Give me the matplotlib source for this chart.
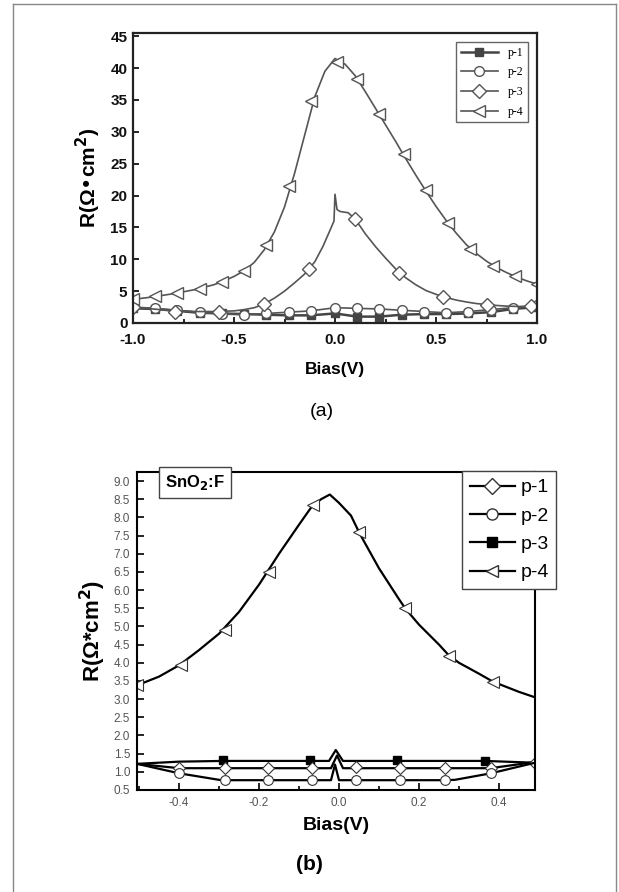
import numpy as np
import matplotlib
matplotlib.use('Agg')
import matplotlib.pyplot as plt
from matplotlib.lines import Line2D
from matplotlib.ticker import MultipleLocator, FormatStrFormatter

plt.rcParams['font.family'] = ['Liberation Sans', 'DejaVu Sans']
plt.rcParams['mathtext.default'] = 'bf'

## (a) top panel data
a_labels = ['p-1', 'p-2', 'p-3', 'p-4']

a_p4_x = [-1.0, -0.95, -0.9, -0.85, -0.8, -0.75, -0.7, -0.65, -0.6, -0.55, -0.5, -0.45, -0.4,
          -0.35, -0.3, -0.25, -0.2, -0.15, -0.1, -0.05, 0.0, 0.05, 0.1, 0.15, 0.2, 0.25, 0.3,
          0.35, 0.4, 0.45, 0.5, 0.55, 0.6, 0.65, 0.7, 0.75, 0.8, 0.85, 0.9, 0.95, 1.0]
a_p4_y = [3.7, 3.9, 4.1, 4.35, 4.6, 4.9, 5.2, 5.6, 6.0, 6.6, 7.3, 8.2, 9.5,
          11.5, 14.3, 18.2, 23.5, 29.5, 35.5, 39.5, 41.5, 40.6, 38.8, 36.3, 33.7, 31.1, 28.5,
          25.8, 23.2, 20.7, 18.3, 16.1, 14.1, 12.3, 10.9, 9.7, 8.7, 7.9, 7.2, 6.6, 6.1]
a_p4_mx = [-1.0, -0.89, -0.78, -0.67, -0.56, -0.45, -0.34, -0.23, -0.12, 0.01,
           0.11, 0.22, 0.34, 0.45, 0.56, 0.67, 0.78, 0.89, 1.0]
a_p4_my = [3.8, 4.3, 4.7, 5.3, 6.4, 8.2, 12.3, 21.5, 34.8, 41.0,
           38.3, 32.8, 26.5, 20.9, 15.7, 11.6, 8.9, 7.3, 6.1]

a_p3_x = [-1.0, -0.9, -0.8, -0.7, -0.6, -0.5, -0.45, -0.4, -0.35, -0.3, -0.25, -0.2, -0.15,
          -0.1, -0.06, -0.024, -0.005, 0.0, 0.01, 0.025, 0.065, 0.1, 0.15, 0.2, 0.25, 0.3,
          0.35, 0.4, 0.45, 0.5, 0.55, 0.6, 0.65, 0.7, 0.75, 0.8, 0.85, 0.9, 0.95, 1.0]
a_p3_y = [2.5, 2.2, 1.9, 1.8, 1.8, 1.9, 2.1, 2.4, 3.0, 3.9, 5.0, 6.3, 7.7,
          9.6, 12.0, 14.6, 16.0, 20.2, 17.8, 17.5, 17.3, 16.3, 14.0, 12.0, 10.2, 8.5,
          7.1, 6.0, 5.1, 4.5, 4.0, 3.6, 3.3, 3.05, 2.9, 2.75, 2.65, 2.6, 2.6, 2.6]
a_p3_mx = [-1.0, -0.79, -0.575, -0.35, -0.128, 0.1, 0.317, 0.535, 0.75, 0.97]
a_p3_my = [2.5, 1.8, 1.8, 3.0, 8.4, 16.3, 7.9, 4.1, 2.9, 2.6]

a_p2_x = [-1.0, -0.89, -0.78, -0.67, -0.56, -0.45, -0.34, -0.23, -0.12, 0.0,
          0.11, 0.22, 0.33, 0.44, 0.55, 0.66, 0.77, 0.88, 1.0]
a_p2_y = [2.5, 2.3, 2.0, 1.7, 1.4, 1.3, 1.5, 1.7, 1.9, 2.4,
          2.3, 2.2, 2.0, 1.8, 1.6, 1.8, 2.1, 2.4, 2.8]

a_p1_x = [-1.0, -0.89, -0.78, -0.67, -0.56, -0.45, -0.34, -0.23, -0.12, 0.0,
          0.11, 0.22, 0.33, 0.44, 0.55, 0.66, 0.77, 0.88, 1.0]
a_p1_y = [2.3, 2.2, 1.9, 1.6, 1.5, 1.4, 1.3, 1.2, 1.2, 1.5,
          1.0, 1.0, 1.3, 1.4, 1.4, 1.5, 1.7, 2.2, 2.5]

## (b) bottom panel data
b_labels = ['p-1', 'p-2', 'p-3', 'p-4']

b_p4_x = [-0.505, -0.45, -0.4, -0.35, -0.3, -0.25, -0.2, -0.15, -0.1, -0.068, -0.045, -0.023,
          0.0, 0.03, 0.052, 0.1, 0.15, 0.166, 0.2, 0.25, 0.275, 0.3, 0.35, 0.385, 0.45, 0.49]
b_p4_y = [3.38, 3.62, 3.93, 4.35, 4.8, 5.4, 6.15, 7.0, 7.8, 8.3, 8.5, 8.63,
          8.4, 8.05, 7.55, 6.6, 5.75, 5.49, 5.05, 4.5, 4.2, 4.0, 3.7, 3.48, 3.2, 3.05]
b_p4_mx = [-0.505, -0.395, -0.285, -0.175, -0.065, 0.05, 0.165, 0.275, 0.385]
b_p4_my = [3.38, 3.95, 4.91, 6.5, 8.33, 7.6, 5.5, 4.2, 3.48]

b_p3_x = [-0.505, -0.4, -0.29, -0.075, -0.025, -0.008, 0.01, 0.145, 0.365, 0.49]
b_p3_y = [1.22, 1.28, 1.3, 1.3, 1.3, 1.6, 1.3, 1.3, 1.3, 1.25]
b_p3_mx = [-0.291, -0.072, 0.146, 0.364]
b_p3_my = [1.32, 1.33, 1.32, 1.31]

b_p1_x = [-0.505, -0.4, -0.286, -0.177, -0.068, -0.02, -0.005, 0.01, 0.042, 0.153, 0.265,
          0.379, 0.49]
b_p1_y = [1.22, 1.1, 1.1, 1.1, 1.1, 1.1, 1.45, 1.1, 1.1, 1.1, 1.1, 1.1, 1.27]
b_p1_mx = [-0.4, -0.286, -0.177, -0.068, 0.042, 0.153, 0.265, 0.379, 0.49]
b_p1_my = [1.1, 1.1, 1.1, 1.1, 1.12, 1.1, 1.1, 1.1, 1.25]

b_p2_x = [-0.505, -0.4, -0.3, -0.286, -0.177, -0.068, -0.02, -0.01, 0.0, 0.042, 0.153,
          0.265, 0.29, 0.38, 0.49]
b_p2_y = [1.22, 0.96, 0.78, 0.77, 0.77, 0.77, 0.77, 1.2, 0.77, 0.77, 0.77,
          0.77, 0.78, 0.96, 1.25]
b_p2_mx = [-0.4, -0.286, -0.177, -0.068, 0.042, 0.153, 0.265, 0.38]
b_p2_my = [0.96, 0.77, 0.77, 0.77, 0.77, 0.77, 0.77, 0.96]

fig = plt.figure(figsize=(6.19, 8.92), dpi=100)

# page frame
fr = '#888888'
fig.add_artist(Line2D([13/619, 13/619], [0, 888/892], color=fr, lw=1))
fig.add_artist(Line2D([616/619, 616/619], [0, 888/892], color=fr, lw=1))
fig.add_artist(Line2D([13/619, 616/619], [888/892, 888/892], color=fr, lw=1))

## (a)
g = '#555555'
ax1 = fig.add_axes([133/619, (892-323)/892, 404/619, 290/892])
ax1.plot(a_p1_x, a_p1_y, color='#444444', lw=1.8)
ax1.plot(a_p1_x, a_p1_y, ls='none', marker='s', ms=6, color='#444444')
ax1.plot(a_p2_x, a_p2_y, color=g, lw=1.2)
ax1.plot(a_p2_x, a_p2_y, ls='none', marker='o', ms=7, mfc='white', mec=g, mew=1)
ax1.plot(a_p3_x, a_p3_y, color=g, lw=1.2)
ax1.plot(a_p3_mx, a_p3_my, ls='none', marker='D', ms=7.5, mfc='white', mec=g, mew=1)
ax1.plot(a_p4_x, a_p4_y, color=g, lw=1.2)
ax1.plot(a_p4_mx, a_p4_my, ls='none', marker='<', ms=9, mfc='white', mec=g, mew=1)
ax1.set_xlim(-1.0, 1.0)
ax1.set_ylim(0, 45.5)
ax1.xaxis.set_major_locator(MultipleLocator(0.5))
ax1.xaxis.set_minor_locator(MultipleLocator(0.25))
ax1.yaxis.set_major_locator(MultipleLocator(5))
ax1.xaxis.set_major_formatter(FormatStrFormatter('%.1f'))
ax1.tick_params(which='both', direction='in', top=False, right=False, width=1.3, colors='#111111')
ax1.tick_params(which='major', length=4, labelsize=11, pad=4)
ax1.tick_params(axis='x', which='major', pad=7)
ax1.tick_params(which='minor', length=3)
for lbl in ax1.get_xticklabels() + ax1.get_yticklabels():
    lbl.set_fontweight('bold')
for s in ax1.spines.values():
    s.set_linewidth(1.6)
    s.set_color('#222222')
ax1.set_xlabel('Bias(V)', fontsize=12.5, fontweight='bold', labelpad=11)
ax1.set_ylabel('R(Ω•cm$^2$)', fontsize=15, fontweight='bold', labelpad=5)
ha = [Line2D([], [], color='#444444', lw=1.8, marker='s', ms=6),
      Line2D([], [], color=g, lw=1.2, marker='o', ms=7, mfc='white', mec=g),
      Line2D([], [], color=g, lw=1.2, marker='D', ms=7, mfc='white', mec=g),
      Line2D([], [], color=g, lw=1.2, marker='<', ms=9, mfc='white', mec=g)]
leg1 = ax1.legend(ha, a_labels, loc='upper right', bbox_to_anchor=(0.978, 0.969),
                  borderaxespad=0, fancybox=False, handlelength=3.2, labelspacing=0.65,
                  prop={'family': 'Liberation Serif', 'size': 8.5}, framealpha=1)
leg1.get_frame().set_edgecolor('#666666')
leg1.get_frame().set_linewidth(1)
fig.text(322/619, 1 - 412/892, '(a)', ha='center', va='center', fontsize=14)

## (b)
ax2 = fig.add_axes([137/619, (892-790)/892, 398/619, 318/892])
ax2.plot(b_p4_x, b_p4_y, color='black', lw=1.6)
ax2.plot(b_p4_mx, b_p4_my, ls='none', marker='<', ms=8, mfc='white', mec='#333333', mew=0.8)
ax2.plot(b_p3_x, b_p3_y, color='black', lw=1.6)
ax2.plot(b_p3_mx, b_p3_my, ls='none', marker='s', ms=6, color='black')
ax2.plot(b_p1_x, b_p1_y, color='black', lw=1.6)
ax2.plot(b_p1_mx, b_p1_my, ls='none', marker='D', ms=6.5, mfc='white', mec='#333333', mew=0.8)
ax2.plot(b_p2_x, b_p2_y, color='black', lw=1.6)
ax2.plot(b_p2_mx, b_p2_my, ls='none', marker='o', ms=7, mfc='white', mec='#333333', mew=0.8)
ax2.set_xlim(-0.505, 0.49)
ax2.set_ylim(0.5, 9.25)
ax2.xaxis.set_major_locator(MultipleLocator(0.2))
ax2.xaxis.set_minor_locator(MultipleLocator(0.1))
ax2.yaxis.set_major_locator(MultipleLocator(0.5))
ax2.yaxis.set_major_formatter(FormatStrFormatter('%.1f'))
ax2.xaxis.set_major_formatter(FormatStrFormatter('%.1f'))
ax2.tick_params(which='both', direction='in', top=False, right=False, width=1.2)
ax2.tick_params(which='major', length=5, labelsize=8.5, labelcolor='#555555', pad=5)
ax2.tick_params(which='minor', length=3)
for lbl in ax2.get_xticklabels() + ax2.get_yticklabels():
    lbl.set_family(['Liberation Sans Narrow', 'Liberation Sans'])
for s in ax2.spines.values():
    s.set_linewidth(1.5)
ax2.set_xlabel('Bias(V)', fontsize=14, fontweight='bold', labelpad=6)
ax2.set_ylabel('R(Ω*cm$^2$)', fontsize=16, fontweight='bold', labelpad=4)
hb = [Line2D([], [], color='black', lw=1.6, marker='D', ms=8, mfc='white', mec='#333333'),
      Line2D([], [], color='black', lw=1.6, marker='o', ms=8, mfc='white', mec='#333333'),
      Line2D([], [], color='black', lw=1.6, marker='s', ms=7),
      Line2D([], [], color='black', lw=1.6, marker='<', ms=9, mfc='white', mec='#333333')]
leg2 = ax2.legend(hb, b_labels, loc='upper left', bbox_to_anchor=(0.8166, 1.003),
                  borderaxespad=0, fancybox=False, handlelength=2.3, labelspacing=0.55,
                  handletextpad=0.3, borderpad=0.4, fontsize=14, framealpha=1)
leg2.get_frame().set_edgecolor('#444444')
leg2.get_frame().set_linewidth(1)
ax2.text(0.146, 0.968, 'SnO$_2$:F', transform=ax2.transAxes, ha='center', va='center',
         fontsize=12, fontweight='bold', zorder=10,
         bbox=dict(boxstyle='square,pad=0.35', fc='white', ec='#444444', lw=1))
fig.text(309/619, 1 - 864/892, '(b)', ha='center', va='center', fontsize=15, fontweight='bold')

fig.savefig('out.png', dpi=100)
